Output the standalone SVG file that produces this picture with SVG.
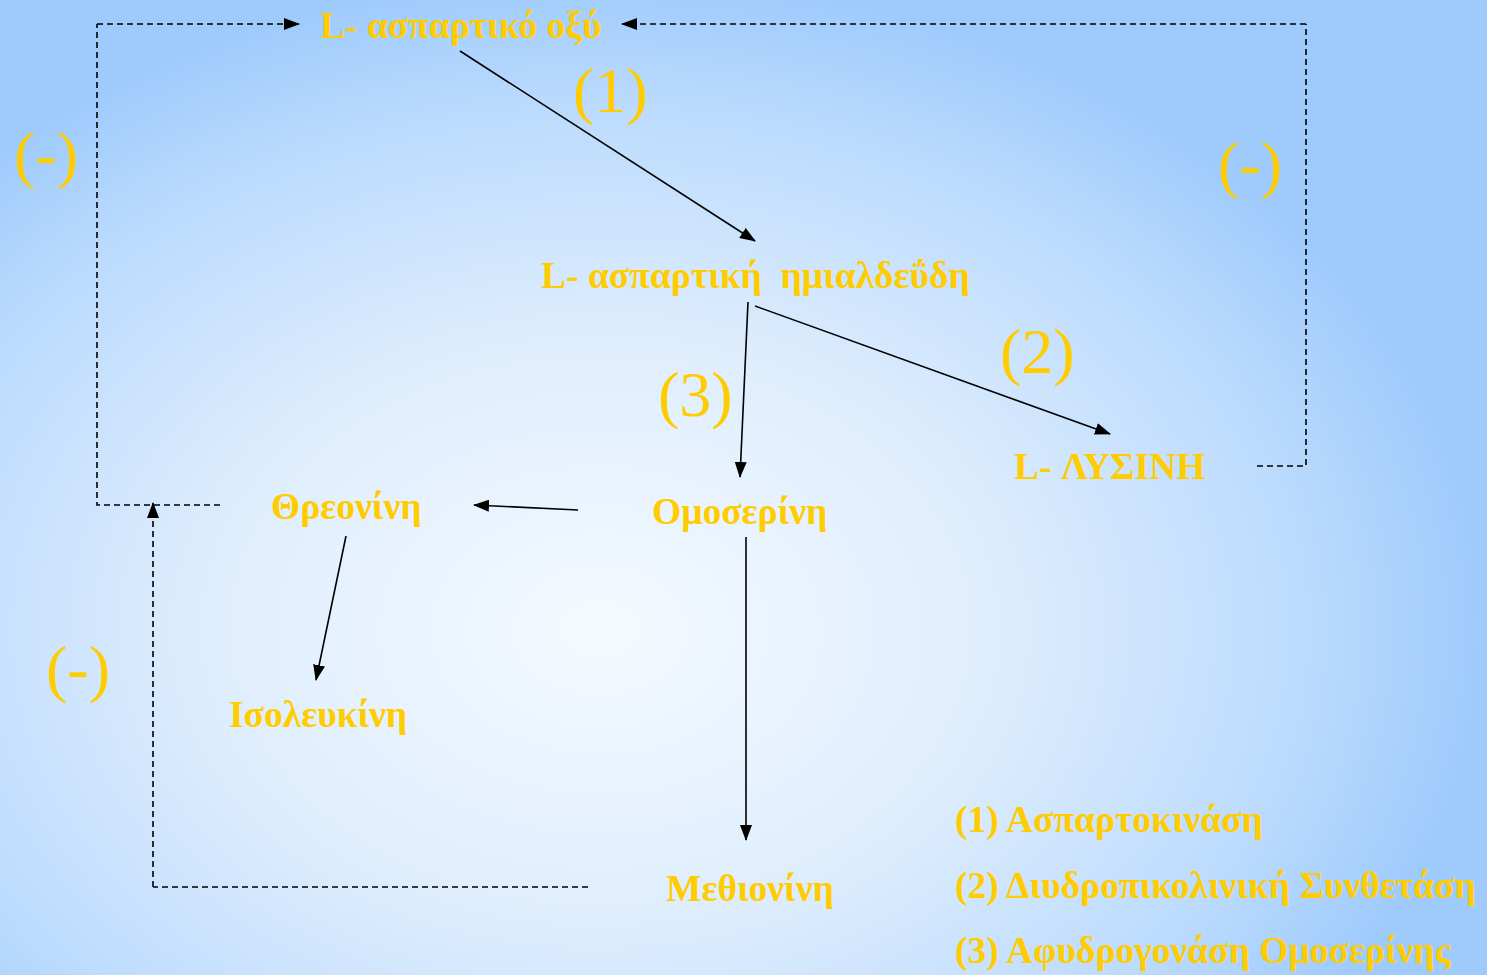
<svg xmlns="http://www.w3.org/2000/svg" width="1487" height="975" viewBox="0 0 1487 975">
  <defs>
    <radialGradient id="bg" gradientUnits="userSpaceOnUse" cx="600" cy="630" r="650" gradientTransform="translate(600 630) scale(1.35 1) translate(-600 -630)">
      <stop offset="0" stop-color="#f5faff"/>
      <stop offset="0.45" stop-color="#deedfd"/>
      <stop offset="0.8" stop-color="#bcdbfd"/>
      <stop offset="1" stop-color="#9fcbfc"/>
    </radialGradient>
    <marker id="arrow" viewBox="0 0 16 12" refX="15" refY="6" markerWidth="16" markerHeight="12" markerUnits="userSpaceOnUse" orient="auto">
      <path d="M0,0 L16,6 L0,12 Z" fill="#000"/>
    </marker>
  </defs>
  <style>
    .node { font-family: "Liberation Serif", "Times New Roman", serif; font-weight: bold; font-size: 37.5px; fill: #ffcc00; white-space: pre; }
    .tag { font-family: "Liberation Serif", "Times New Roman", serif; font-size: 64px; fill: #ffcc00; }
    .solid { stroke: #000; stroke-width: 1.6; fill: none; marker-end: url(#arrow); }
    .dash { stroke: #000; stroke-width: 1.6; fill: none; stroke-dasharray: 6 4; }
    .dash.arr { marker-end: url(#arrow); }
  </style>

  <rect width="1487" height="975" fill="url(#bg)"/>

  <g id="connectors">
    <!-- feedback loops -->
    <path class="dash" d="M220,505 H97 V24"/>
    <path class="dash arr" d="M97,24 H299"/>
    <path class="dash" d="M1257,466 H1306 V24"/>
    <path class="dash arr" d="M1306,24 H622"/>
    <path class="dash" d="M588,887 H153"/>
    <path class="dash arr" d="M153,887 V503"/>
    <!-- pathway -->
    <path class="solid" d="M460,51 L755,241"/>
    <path class="solid" d="M748,302 L740,477"/>
    <path class="solid" d="M755,306 L1110,434"/>
    <path class="solid" d="M578,510 L474,505"/>
    <path class="solid" d="M346,536 L316,680"/>
    <path class="solid" d="M746,537 L746,840"/>
  </g>

  <g id="aspartate"><text class="node" x="320" y="38">L- ασπαρτικό οξύ</text></g>
  <g id="semialdehyde"><text class="node" x="541" y="288">L- ασπαρτική  ημιαλδεΰδη</text></g>
  <g id="lysine"><text class="node" x="1014" y="479">L- ΛΥΣΙΝΗ</text></g>
  <g id="threonine"><text class="node" x="271" y="519">Θρεονίνη</text></g>
  <g id="homoserine"><text class="node" x="652" y="524">Ομοσερίνη</text></g>
  <g id="isoleucine"><text class="node" x="229" y="727">Ισολευκίνη</text></g>
  <g id="methionine"><text class="node" x="666" y="901">Μεθιονίνη</text></g>

  <g id="labels">
    <text class="tag" x="573" y="112">(1)</text>
    <text class="tag" x="1000" y="373">(2)</text>
    <text class="tag" x="658" y="416">(3)</text>
    <text class="tag" x="14" y="176">(-)</text>
    <text class="tag" x="1218" y="186">(-)</text>
    <text class="tag" x="46" y="690">(-)</text>
  </g>

  <g id="legend">
    <text class="node" x="955" y="832">(1) Ασπαρτοκινάση</text>
    <text class="node" x="955" y="898">(2) Διυδροπικολινική Συνθετάση</text>
    <text class="node" x="955" y="963">(3) Αφυδρογονάση Ομοσερίνης</text>
  </g>
</svg>
